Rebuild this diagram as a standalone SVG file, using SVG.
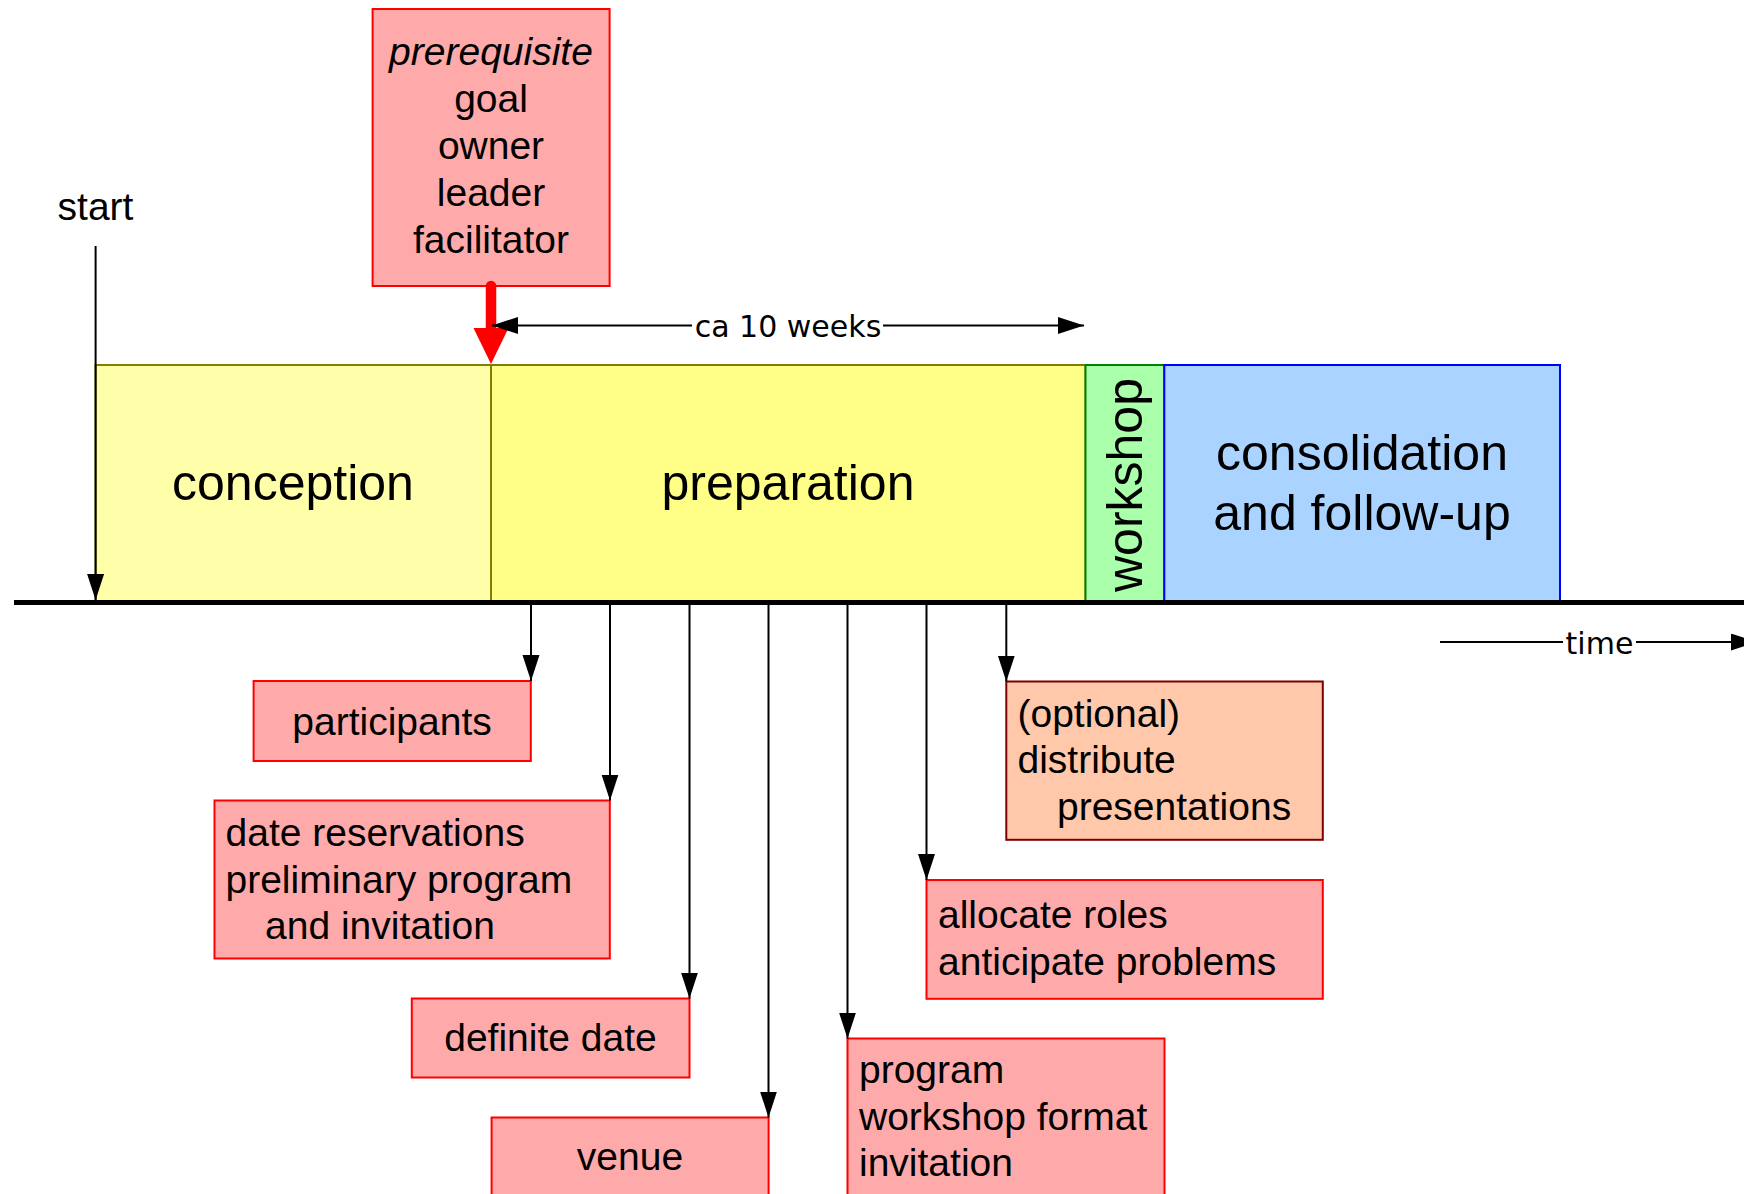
<svg xmlns="http://www.w3.org/2000/svg" width="1744" height="1194" viewBox="0 0 1744 1194">
  <defs>
    <marker id="arr" markerUnits="userSpaceOnUse" markerWidth="26" markerHeight="18" refX="26" refY="8.5" orient="auto">
      <path d="M0,0 L26,8.5 L0,17 Z" fill="#000"/>
    </marker>
    <style>
      text { font-family: "Liberation Sans", Arial, sans-serif; fill: #000; }
      .t38 { font-size: 39px; }
      .t50 { font-size: 50px; }
      .mid { text-anchor: middle; }
      .cal { font-family: "DejaVu Sans", sans-serif; font-size: 30px; }
      .redbox { fill: #FFAAAA; stroke: #FF0000; stroke-width: 2; }
      .orgbox { fill: #FFC8AA; stroke: #800000; stroke-width: 2; }
      .thin { stroke: #000; stroke-width: 2; fill: none; }
    </style>
  </defs>
  <rect width="1744" height="1194" fill="#fff"/>

  <g id="phase-conception">
    <rect x="95.6" y="365" width="395.4" height="237" fill="#FFFFAA" stroke="#808000" stroke-width="2"/>
    <text class="t50 mid" x="293" y="500">conception</text>
  </g>
  <g id="phase-preparation">
    <rect x="491" y="365" width="594.5" height="237" fill="#FFFF88" stroke="#808000" stroke-width="2"/>
    <text class="t50 mid" x="788" y="500">preparation</text>
  </g>
  <g id="phase-workshop">
    <rect x="1085.5" y="365" width="78.8" height="237" fill="#AAFFAA" stroke="#008000" stroke-width="2"/>
    <text class="t50 mid" transform="translate(1142,485) rotate(-90)" x="0" y="0">workshop</text>
  </g>
  <g id="phase-consolidation">
    <rect x="1164.3" y="365" width="395.7" height="237" fill="#AAD4FF" stroke="#0000FF" stroke-width="2"/>
    <text class="t50 mid" x="1362" y="469.5">consolidation</text>
    <text class="t50 mid" x="1362" y="529.5">and follow-up</text>
  </g>

  <g id="prerequisite">
    <rect class="redbox" x="372.6" y="9" width="237" height="277"/>
    <text class="t38 mid" x="491" y="64.5" font-style="italic">prerequisite</text>
    <text class="t38 mid" x="491" y="111.5">goal</text>
    <text class="t38 mid" x="491" y="158.5">owner</text>
    <text class="t38 mid" x="491" y="205.5">leader</text>
    <text class="t38 mid" x="491" y="252.5">facilitator</text>
  </g>

  <g id="start-label">
    <text class="t38 mid" x="95.5" y="219.5">start</text>
  </g>

  <g id="participants">
    <rect class="redbox" x="253.6" y="681" width="277.2" height="80"/>
    <text class="t38 mid" x="392" y="734.5">participants</text>
  </g>
  <g id="date-reservations">
    <rect class="redbox" x="214.5" y="800.5" width="395.3" height="158"/>
    <text class="t38" x="225.5" y="846">date reservations</text>
    <text class="t38" x="225.5" y="892.5">preliminary program</text>
    <text class="t38" x="265" y="939">and invitation</text>
  </g>
  <g id="definite-date">
    <rect class="redbox" x="411.8" y="998.5" width="277.7" height="79"/>
    <text class="t38 mid" x="550.5" y="1050.5">definite date</text>
  </g>
  <g id="venue">
    <rect class="redbox" x="491.6" y="1117.5" width="277" height="90"/>
    <text class="t38 mid" x="630" y="1170">venue</text>
  </g>
  <g id="program">
    <rect class="redbox" x="847.5" y="1038.5" width="317" height="170"/>
    <text class="t38" x="859" y="1082.5">program</text>
    <text class="t38" x="859" y="1129.5">workshop format</text>
    <text class="t38" x="859" y="1176">invitation</text>
  </g>
  <g id="allocate-roles">
    <rect class="redbox" x="926.5" y="880" width="396.3" height="118.8"/>
    <text class="t38" x="938" y="928">allocate roles</text>
    <text class="t38" x="938" y="974.5">anticipate problems</text>
  </g>
  <g id="optional">
    <rect class="orgbox" x="1006.3" y="681.5" width="316.5" height="158.3"/>
    <text class="t38" x="1017.5" y="726.5">(optional)</text>
    <text class="t38" x="1017.5" y="773">distribute</text>
    <text class="t38" x="1057" y="820">presentations</text>
  </g>

  <g id="connectors">
    <line x1="14" y1="602.5" x2="1744" y2="602.5" stroke="#000" stroke-width="5"/>
    <line class="thin" x1="95.6" y1="246" x2="95.6" y2="600" marker-end="url(#arr)"/>
    <line x1="491" y1="286" x2="491" y2="332" stroke="#FF0000" stroke-width="10.5" stroke-linecap="round"/>
    <polygon points="473.5,328 508.5,328 491,364" fill="#FF0000"/>
    <line class="thin" x1="692" y1="325.5" x2="492" y2="325.5" marker-end="url(#arr)"/>
    <line class="thin" x1="883" y1="325.5" x2="1084" y2="325.5" marker-end="url(#arr)"/>
    <text class="cal mid" x="788" y="336.5">ca 10 weeks</text>
    <line class="thin" x1="1440" y1="642" x2="1563" y2="642"/>
    <line class="thin" x1="1636" y1="642" x2="1757" y2="642" marker-end="url(#arr)"/>
    <text class="cal mid" x="1599.5" y="653.5">time</text>
    <line class="thin" x1="531" y1="605" x2="531" y2="681" marker-end="url(#arr)"/>
    <line class="thin" x1="610" y1="605" x2="610" y2="800.5" marker-end="url(#arr)"/>
    <line class="thin" x1="689.5" y1="605" x2="689.5" y2="998.5" marker-end="url(#arr)"/>
    <line class="thin" x1="768.5" y1="605" x2="768.5" y2="1117.5" marker-end="url(#arr)"/>
    <line class="thin" x1="847.5" y1="605" x2="847.5" y2="1038.5" marker-end="url(#arr)"/>
    <line class="thin" x1="926.5" y1="605" x2="926.5" y2="880" marker-end="url(#arr)"/>
    <line class="thin" x1="1006.3" y1="605" x2="1006.3" y2="681.5" marker-end="url(#arr)"/>
  </g>
</svg>
